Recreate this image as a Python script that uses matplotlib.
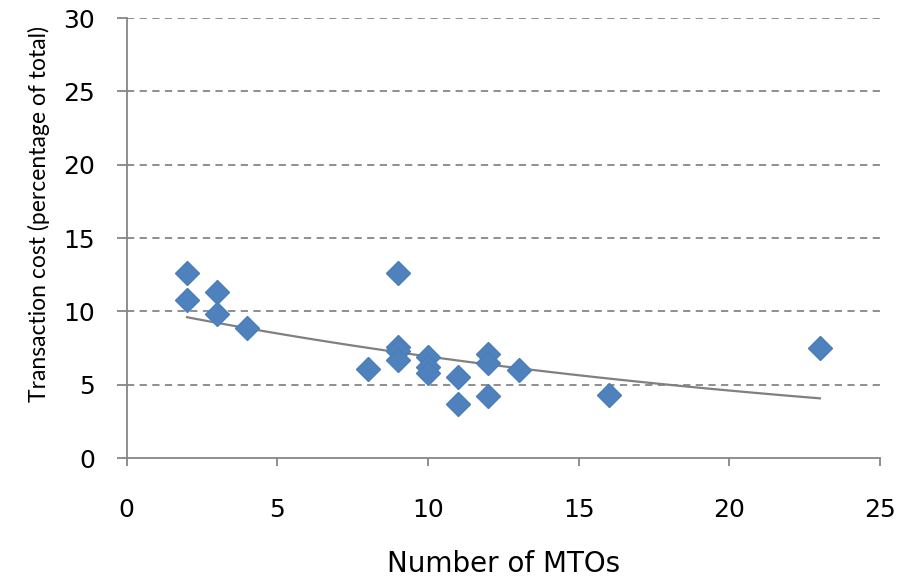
# Transaction cost vs number of MTOs, with exponential trend line
import numpy as np
import matplotlib.pyplot as plt

plt.rcParams["font.family"] = ["DejaVu Sans"]

# ── data ────────────────────────────────────────────────
n_mtos = [2, 2, 3, 3, 4, 8, 9, 9, 9, 9, 10, 10, 10, 11, 11, 12, 12, 12, 13, 16, 23]
cost_pct = [12.6, 10.8, 11.3, 9.8, 8.9, 6.1, 12.6, 7.6, 7.3, 6.7,
            6.9, 6.2, 5.8, 5.5, 3.7, 7.1, 6.5, 4.2, 6.0, 4.3, 7.5]

x_ticks = [0, 5, 10, 15, 20, 25]
y_ticks = [0, 5, 10, 15, 20, 25, 30]

# exponential trend (Excel style), fitted on the points
b, a = np.polyfit(n_mtos, np.log(cost_pct), 1)
trend_x = np.linspace(min(n_mtos), max(n_mtos), 100)
trend_y = np.exp(a + b * trend_x)

fig = plt.figure(figsize=(8.99, 5.82), dpi=100)
ax = fig.add_axes([0.141, 0.213, 0.838, 0.756])

grid_col = "#868686"
for yv in y_ticks[1:]:
    ax.axhline(yv, color=grid_col, linestyle=(0, (4, 3)), linewidth=1.3, zorder=0)

ax.plot(trend_x, trend_y, color="#808080", linewidth=1.6, zorder=2)
ax.plot(n_mtos, cost_pct, linestyle="none", marker="D", markersize=12,
        color="#4F81BD", markeredgecolor="#4A7EBB", zorder=3)

ax.set_xlim(0, 25)
ax.set_ylim(0, 30)
ax.set_xticks(x_ticks)
ax.set_yticks(y_ticks)

for side in ["top", "right"]:
    ax.spines[side].set_visible(False)
for side in ["left", "bottom"]:
    ax.spines[side].set_color(grid_col)
    ax.spines[side].set_linewidth(1.3)

ax.tick_params(axis="x", direction="out", length=6, color=grid_col, width=1.3,
               pad=23, labelsize=18, labelcolor="black")
ax.tick_params(axis="y", direction="out", length=7, color=grid_col, width=1.3,
               pad=16, labelsize=18, labelcolor="black")

ax.set_xlabel("Number of MTOs", fontsize=20)
ax.xaxis.set_label_coords(0.5, -0.21)
ax.set_ylabel("Transaction cost (percentage of total)", fontsize=16.5,
              family=["Lato", "DejaVu Sans"])
ax.yaxis.set_label_coords(-0.102, 0.555)

plt.savefig("out.png", dpi=100)
